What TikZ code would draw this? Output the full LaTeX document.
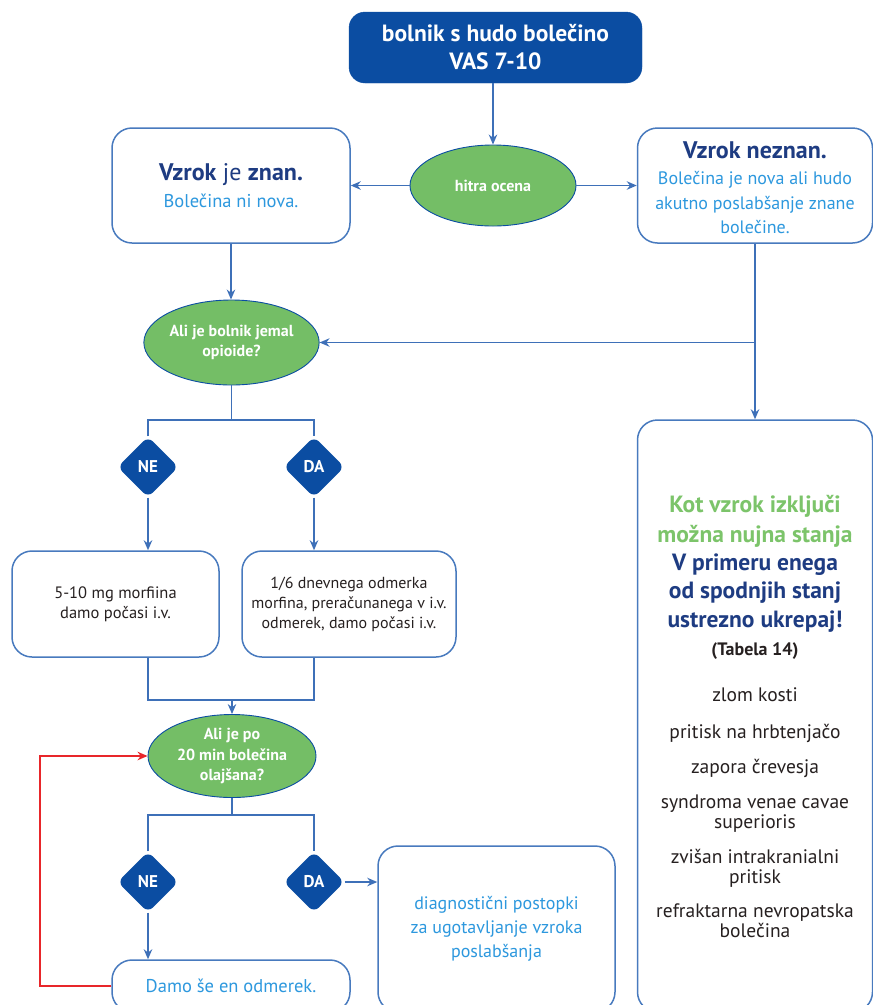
\documentclass[tikz,border=0pt]{standalone}
\usepackage{fontspec}
\setmainfont{PT Sans}
\usetikzlibrary{shapes.geometric,arrows.meta}
\definecolor{navy}{RGB}{11,77,162}
\definecolor{darknavy}{RGB}{30,60,130}
\definecolor{lightblue}{RGB}{45,152,222}
\definecolor{bord}{RGB}{72,122,190}
\definecolor{conn}{RGB}{62,112,184}
\definecolor{ovalgreen}{RGB}{116,190,102}
\definecolor{textgreen}{RGB}{124,196,106}
\definecolor{darktext}{RGB}{38,32,32}
\definecolor{loopred}{RGB}{232,38,42}
\newcommand\fs[2]{\fontsize{#1}{#2}\selectfont}
% lines of mixed sizes: baselines set only by the explicit \\[..] distances
\newcommand\exactlines{\baselineskip=0pt\lineskiplimit=-1000pt\lineskip=0pt}
\begin{document}
\begin{tikzpicture}[x=1pt,y=-1pt,
  headbox/.style={draw=navy, fill=navy, rounded corners=16pt, text=white,
    font=\bfseries\fs{23.5}{28}, align=center, inner sep=0pt},
  box/.style={draw=bord, line width=1.5pt, rounded corners=20pt, fill=white,
    align=center, inner sep=0pt},
  oval/.style={ellipse, draw=navy, line width=0.9pt, fill=ovalgreen, text=white,
    font=\bfseries\fs{16}{20.5}, align=center, inner sep=0pt},
  dia/.style={diamond, aspect=1, fill=navy, rounded corners=7pt, minimum width=61pt,
    minimum height=61pt, inner sep=0pt, text=white, font=\bfseries\fs{17}{18}},
  ln/.style={draw=conn, line width=1.5pt},
  arr/.style={ln, -{Stealth[length=10pt,width=8.5pt]}},
  redarr/.style={draw=loopred, line width=1.7pt, -{Stealth[length=10pt,width=8.5pt]}}
]
\useasboundingbox (0,0) rectangle (873,1005);
\clip (0,0) rectangle (873,1005);

% --- nodes ---
\node[headbox, minimum width=293pt, minimum height=71pt] (top) at (495.5,47.5)
  {bolnik s hudo bolečino\\VAS 7-10};
\node[oval, minimum width=166pt, minimum height=81pt] (quick) at (493,185.5) {hitra ocena};
\node[box, minimum width=238pt, minimum height=115pt, font=\fs{18.5}{0}\exactlines] (known) at (231,185.5)
  {{\color{darknavy}\fs{24}{0}\textbf{Vzrok} je \textbf{znan.}}\\[27pt]{\color{lightblue}Bolečina ni nova.}};
\node[box, minimum width=235pt, minimum height=115pt, font=\fs{18}{0}\exactlines, text=lightblue] (unknown) at (755,185.5)
  {{\color{darknavy}\fs{24}{0}\textbf{Vzrok neznan.}}\\[26pt]
   Bolečina je nova ali hudo\\[25pt]akutno poslabšanje znane\\[24pt]bolečine.\\[-4pt]\strut};
\node[oval, minimum width=167pt, minimum height=85pt] (opioid) at (231.5,342.5)
  {Ali je bolnik jemal\\opioide?};
\node[dia] (ne1) at (148,467) {NE};
\node[dia] (da1) at (314,467) {DA};
\node[box, minimum width=207pt, minimum height=106pt, text=darktext, font=\fs{16.5}{20}] (morph) at (115.5,604)
  {5-10 mg morfiina\\damo počasi i.v.};
\node[box, minimum width=214pt, minimum height=106pt, text=darktext, font=\fs{16}{20}] (dose) at (349,604)
  {1/6 dnevnega odmerka\\morfina, preračunanega v i.v.\\odmerek, damo počasi i.v.};
\node[oval, minimum width=168pt, minimum height=83pt] (eval) at (232,756)
  {Ali je po\\20 min bolečina\\olajšana?};
\node[dia] (ne2) at (148,882) {NE};
\node[dia] (da2) at (314,882) {DA};
\node[box, minimum width=238pt, minimum height=52pt, text=lightblue, font=\fs{18.5}{24}] (again) at (231,986)
  {Damo še en odmerek.};
\node[box, minimum width=237pt, minimum height=166pt, text=lightblue, font=\fs{18}{24}] (diag) at (496.5,929)
  {diagnostični postopki\\za ugotavljanje vzroka\\poslabšanja};
\node[box, minimum width=235pt, minimum height=592pt] (urgent) at (755,716) {};
\node[align=center, text=darktext, font=\fs{19.5}{0}\exactlines, anchor=north] (urgenttext) at (755,491.5)
  {{\color{textgreen}\bfseries\fs{23.5}{0}Kot vzrok izključi}\\[30pt]
   {\color{textgreen}\bfseries\fs{23.5}{0}možna nujna stanja}\\[28pt]
   {\color{darknavy}\bfseries\fs{23.5}{0}V primeru enega}\\[28pt]
   {\color{darknavy}\bfseries\fs{23.5}{0}od spodnjih stanj}\\[29pt]
   {\color{darknavy}\bfseries\fs{23.5}{0}ustrezno ukrepaj!}\\[28pt]
   {\bfseries\fs{18}{0}(Tabela 14)}\\[46pt]
   zlom kosti\\[37pt]
   pritisk na hrbtenjačo\\[35pt]
   zapora črevesja\\[35pt]
   syndroma venae cavae\\[20pt]
   superioris\\[35pt]
   zvišan intrakranialni\\[20pt]
   pritisk\\[34pt]
   refraktarna nevropatska\\[20pt]
   bolečina};

% --- connectors ---
\coordinate (split1) at (0,420);
\coordinate (merge) at (0,700);
\coordinate (split2) at (0,815);
\coordinate (loopx) at (40,0);

\draw[arr] (top.south -| quick.north) -- (quick.north);
\draw[arr] (quick.west) -- (known.east);
\draw[arr] (quick.east) -- (unknown.west);
\draw[arr] (known.south) -- (known.south |- opioid.north);
\draw[arr] (unknown.south) -- (urgent.north);
\draw[arr] (unknown.south |- opioid.east) -- (opioid.east);

\draw[ln] (opioid.south) -- (opioid.south |- split1);
\draw[ln] (ne1.north) |- (da1.north |- split1) -- (da1.north);
\draw[arr] (ne1.south) -- (ne1.south |- morph.north);
\draw[arr] (da1.south) -- (da1.south |- dose.north);

\draw[ln] (ne1.south |- morph.south) |- (da1.south |- merge) -- (da1.south |- dose.south);
\draw[arr] (eval.north |- merge) -- (eval.north);

\draw[ln] (eval.south) -- (eval.south |- split2);
\draw[ln] (ne2.north) |- (da2.north |- split2) -- (da2.north);
\draw[arr] (ne2.south) -- (ne2.south |- again.north);
\draw[arr] (da2.east) -- (da2.east -| diag.west);
\draw[redarr] (again.west) -- (again.west -| loopx) |- (eval.west);
\end{tikzpicture}
\end{document}
